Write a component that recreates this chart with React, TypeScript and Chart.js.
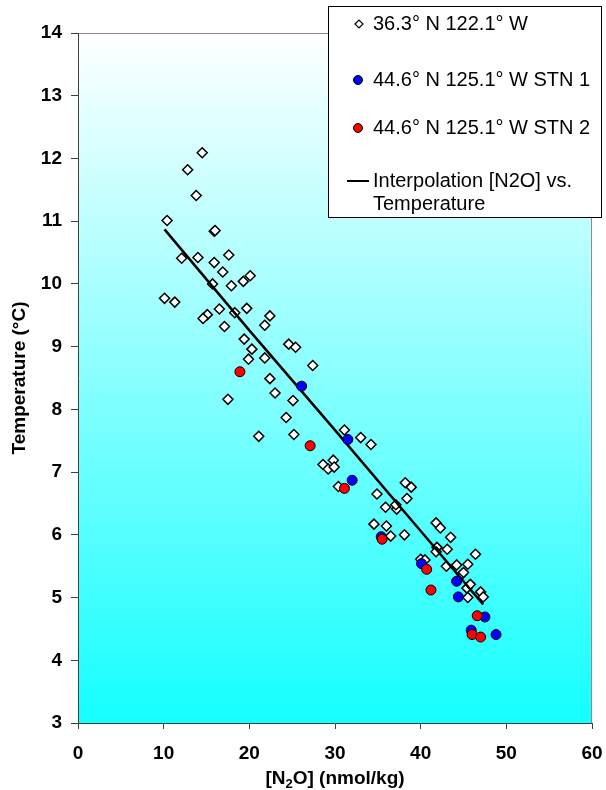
import React, { useEffect, useRef } from "react";
import { Chart, registerables } from "chart.js";

Chart.register(...registerables);

// Station 36.3° N 122.1° W: [N2O] (nmol/kg) and temperature (°C)
const siteAN2O = [
  14.5, 12.8, 13.8, 10.4, 15.9, 16.0, 12.1, 14.0, 17.6, 15.9, 16.9, 20.1, 19.3, 17.9, 15.7,
  10.1, 11.3, 16.5, 19.7, 22.4, 15.1, 14.6, 18.3, 17.1, 21.8, 19.4, 24.6, 25.4, 20.3, 19.9,
  21.8, 27.4, 22.4, 23.0, 17.5, 25.1, 24.3, 21.1, 25.2, 31.1, 33.0, 34.2, 28.6, 29.2, 29.8,
  29.9, 30.4, 34.9, 38.2, 38.9, 38.4, 35.9, 37.2, 37.1, 36.0, 36.5, 38.1, 41.8, 42.3, 43.5,
  41.9, 41.8, 43.1, 46.4, 40.0, 40.5, 43.0, 44.2, 45.5, 44.8, 45.0, 45.4, 45.8, 47.0, 47.3,
  45.5, 34.55,
];
const siteATemp = [
  12.09, 11.82, 11.41, 11.01, 10.84, 10.85, 10.41, 10.42, 10.46, 10.34, 10.19, 10.13, 10.04, 9.97, 10.0,
  9.77, 9.71, 9.6, 9.61, 9.49, 9.51, 9.45, 9.54, 9.32, 9.34, 9.12, 9.04, 8.99, 8.96, 8.8,
  8.82, 8.7, 8.49, 8.26, 8.16, 8.14, 7.87, 7.57, 7.6, 7.67, 7.55, 7.44, 7.12, 7.05, 7.19,
  7.08, 6.77, 6.65, 6.83, 6.76, 6.58, 6.44, 6.41, 6.48, 6.14, 5.98, 6.0, 6.19, 6.11, 5.96,
  5.8, 5.73, 5.77, 5.69, 5.61, 5.6, 5.5, 5.52, 5.53, 5.37, 5.4, 5.15, 5.21, 5.09, 5.01,
  5.0, 6.17,
];

// Station 44.6° N 125.1° W, STN 1
const stn1N2O = [26.1, 31.5, 32.0, 35.4, 40.1, 44.2, 44.4, 47.5, 45.9, 48.8];
const stn1Temp = [8.37, 7.52, 6.87, 5.97, 5.54, 5.26, 5.01, 4.69, 4.48, 4.41];

// Station 44.6° N 125.1° W, STN 2
const stn2N2O = [18.9, 27.1, 31.1, 35.5, 40.7, 41.2, 46.6, 46.0, 47.0];
const stn2Temp = [8.6, 7.42, 6.74, 5.93, 5.45, 5.12, 4.71, 4.41, 4.37];

// Interpolated relation [N2O] vs. temperature
const fitN2O = [10.1, 20.0, 30.0, 40.0, 47.3];
const fitTemp = [10.87, 9.26, 7.67, 6.06, 4.89];

const seriesLabels = [
  "36.3° N 122.1° W",
  "44.6° N 125.1° W STN 1",
  "44.6° N 125.1° W STN 2",
  "Interpolation [N2O] vs. Temperature",
];
const fitLabelLines = ["Interpolation [N2O] vs.", "Temperature"];

const xTitleParts = ["[N", "2", "O] (nmol/kg)"];
const yTitle = "Temperature (°C)";

const FONT = "'Liberation Sans', Arial, Helvetica, sans-serif";

const pts = (xs: number[], ys: number[]) => xs.map((x, i) => ({ x, y: ys[i] }));

const plotBackground = {
  id: "plotBackground",
  beforeDraw(chart: any) {
    const { ctx, chartArea: a } = chart;
    const g = ctx.createLinearGradient(0, a.top, 0, a.bottom);
    g.addColorStop(0, "#ffffff");
    g.addColorStop(1, "#14ffff");
    ctx.save();
    ctx.fillStyle = g;
    ctx.fillRect(a.left, a.top, a.right - a.left, a.bottom - a.top);
    ctx.strokeStyle = "#8c8c8c";
    ctx.lineWidth = 1;
    ctx.beginPath();
    ctx.moveTo(a.left, a.top + 0.5);
    ctx.lineTo(a.right - 0.5, a.top + 0.5);
    ctx.lineTo(a.right - 0.5, a.bottom);
    ctx.stroke();
    ctx.restore();
  },
};

const titlesAndLegend = {
  id: "titlesAndLegend",
  afterDraw(chart: any) {
    const { ctx, chartArea: a } = chart;
    ctx.save();
    ctx.fillStyle = "#000";

    // y-axis title
    ctx.font = `bold 19px ${FONT}`;
    ctx.textAlign = "center";
    ctx.textBaseline = "middle";
    ctx.save();
    ctx.translate(20, (a.top + a.bottom) / 2);
    ctx.rotate(-Math.PI / 2);
    ctx.fillText(yTitle, 0, 0);
    ctx.restore();

    // x-axis title with subscript
    const big = `bold 19px ${FONT}`;
    const small = `bold 13px ${FONT}`;
    ctx.textAlign = "left";
    ctx.textBaseline = "alphabetic";
    ctx.font = big;
    const w0 = ctx.measureText(xTitleParts[0]).width;
    const w2 = ctx.measureText(xTitleParts[2]).width;
    ctx.font = small;
    const w1 = ctx.measureText(xTitleParts[1]).width;
    const total = w0 + w1 + w2;
    let x = (a.left + a.right) / 2 - total / 2;
    const base = 784;
    ctx.font = big;
    ctx.fillText(xTitleParts[0], x, base);
    x += w0;
    ctx.font = small;
    ctx.fillText(xTitleParts[1], x, base + 4);
    x += w1;
    ctx.font = big;
    ctx.fillText(xTitleParts[2], x, base);

    // legend box
    const bx = 328.5, by = 6.5, bw = 273, bh = 211;
    ctx.fillStyle = "#fff";
    ctx.fillRect(bx, by, bw, bh);
    ctx.strokeStyle = "#000";
    ctx.lineWidth = 1;
    ctx.strokeRect(bx, by, bw, bh);

    ctx.font = `20px ${FONT}`;
    ctx.textBaseline = "middle";
    ctx.fillStyle = "#000";
    const tx = 373;

    // diamond entry
    ctx.beginPath();
    ctx.moveTo(359 - 4, 24);
    ctx.lineTo(359, 24 - 4);
    ctx.lineTo(359 + 4, 24);
    ctx.lineTo(359, 24 + 4);
    ctx.closePath();
    ctx.fillStyle = "#fff";
    ctx.fill();
    ctx.lineWidth = 1.2;
    ctx.strokeStyle = "#000";
    ctx.stroke();
    ctx.fillStyle = "#000";
    ctx.fillText(seriesLabels[0], tx, 24);

    // STN 1 entry
    ctx.beginPath();
    ctx.arc(358, 80, 4.5, 0, Math.PI * 2);
    ctx.fillStyle = "#0000ff";
    ctx.fill();
    ctx.lineWidth = 1;
    ctx.stroke();
    ctx.fillStyle = "#000";
    ctx.fillText(seriesLabels[1], tx, 80);

    // STN 2 entry
    ctx.beginPath();
    ctx.arc(358, 128, 4.5, 0, Math.PI * 2);
    ctx.fillStyle = "#ff0000";
    ctx.fill();
    ctx.stroke();
    ctx.fillStyle = "#000";
    ctx.fillText(seriesLabels[2], tx, 128);

    // interpolation entry
    ctx.beginPath();
    ctx.moveTo(347, 181);
    ctx.lineTo(369, 181);
    ctx.lineWidth = 2;
    ctx.stroke();
    ctx.fillText(fitLabelLines[0], tx, 181);
    ctx.fillText(fitLabelLines[1], tx, 204);

    ctx.restore();
  },
};

export default function App() {
  const canvasRef = useRef<HTMLCanvasElement | null>(null);

  useEffect(() => {
    const canvas = canvasRef.current;
    if (!canvas) return;
    const tickFont = { family: FONT, size: 19, weight: "bold" as const };
    const chart = new Chart(canvas, {
      type: "scatter",
      data: {
        datasets: [
          {
            label: seriesLabels[2],
            data: pts(stn2N2O, stn2Temp),
            pointStyle: "circle",
            pointRadius: 5,
            backgroundColor: "#ff0000",
            borderColor: "#000",
            borderWidth: 1,
            order: 0,
          },
          {
            label: seriesLabels[1],
            data: pts(stn1N2O, stn1Temp),
            pointStyle: "circle",
            pointRadius: 5,
            backgroundColor: "#0000ff",
            borderColor: "#000",
            borderWidth: 1,
            order: 1,
          },
          {
            label: seriesLabels[3],
            type: "line",
            data: pts(fitN2O, fitTemp),
            borderColor: "#000",
            borderWidth: 2.5,
            pointRadius: 0,
            fill: false,
            tension: 0,
            order: 2,
          } as any,
          {
            label: seriesLabels[0],
            data: pts(siteAN2O, siteATemp),
            pointStyle: "rectRot",
            pointRadius: 5,
            backgroundColor: "#fff",
            borderColor: "#000",
            borderWidth: 1.5,
            order: 3,
          },
        ],
      },
      options: {
        responsive: false,
        animation: false,
        devicePixelRatio: 1,
        layout: { padding: { top: 33, right: 14, left: 0, bottom: 0 } },
        plugins: {
          legend: { display: false },
          title: { display: false },
          tooltip: { enabled: false },
        },
        scales: {
          x: {
            type: "linear",
            min: 0,
            max: 60,
            ticks: { stepSize: 10, font: tickFont, color: "#000", padding: 13, maxRotation: 0 },
            grid: { drawOnChartArea: false, drawTicks: true, tickLength: 6, color: "#404040" },
            border: { display: true, color: "#404040", width: 1 },
            afterFit: (s: any) => {
              s.height = 67;
              s.paddingLeft = 0;
              s.paddingRight = 0;
            },
          },
          y: {
            type: "linear",
            min: 3,
            max: 14,
            ticks: { stepSize: 1, font: tickFont, color: "#000", padding: 9 },
            grid: { drawOnChartArea: false, drawTicks: true, tickLength: 7, color: "#404040" },
            border: { display: true, color: "#404040", width: 1 },
            afterFit: (s: any) => {
              s.width = 78;
              s.paddingTop = 0;
              s.paddingBottom = 0;
            },
          },
        },
      },
      plugins: [plotBackground, titlesAndLegend],
    });
    return () => chart.destroy();
  }, []);

  return (
    <div style={{ position: "absolute", left: 0, top: 0, width: 606, height: 790, background: "#fff" }}>
      <canvas ref={canvasRef} width={606} height={790} style={{ display: "block" }} />
    </div>
  );
}
